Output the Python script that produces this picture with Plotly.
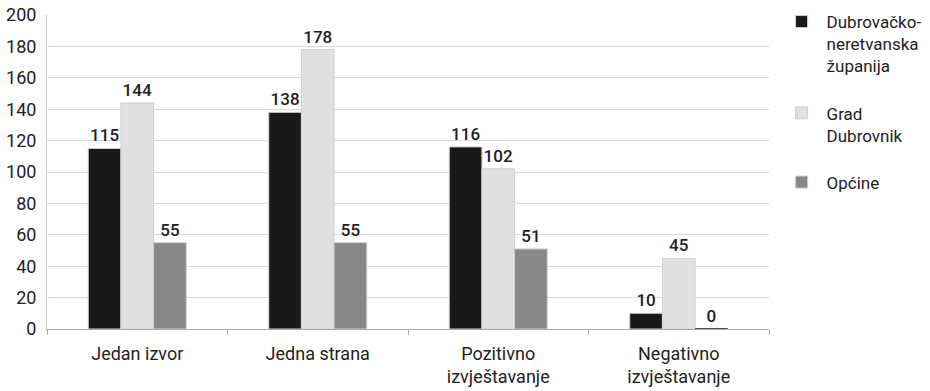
import plotly.graph_objects as go

categories = ["Jedan izvor", "Jedna strana", "Pozitivno<br>izvještavanje", "Negativno<br>izvještavanje"]
series_names = ["Dubrovačko-<br>neretvanska<br>županija", "Grad<br>Dubrovnik", "Općine"]
zupanija = [115, 138, 116, 10]
grad = [144, 178, 102, 45]
opcine = [55, 55, 51, 0]
colors = ["#191919", "#e0e0e0", "#888888"]
y_ticks = [0, 20, 40, 60, 80, 100, 120, 140, 160, 180, 200]

FONT = "Roboto"
fig = go.Figure()
for i, (name, vals, col) in enumerate(zip(series_names, [zupanija, grad, opcine], colors)):
    line_cols = ["#191919" if v == 0 else "#cfcfcf" for v in vals]
    fig.add_trace(go.Bar(
        x=categories, y=vals, name=name, legendgroup=f"g{i}",
        marker=dict(color=col, line=dict(color=line_cols, width=1)),
        text=vals, textposition="outside", cliponaxis=False,
        textfont=dict(family=FONT, size=17, color="#222", weight=500),
    ))

fig.update_layout(
    width=930, height=391,
    margin=dict(l=47, r=161, t=15, b=62, autoexpand=False),
    plot_bgcolor="white", paper_bgcolor="white",
    barmode="group", bargap=0.457, bargroupgap=0,
    font=dict(family=FONT, size=17, color="#222"),
    showlegend=True,
    legend=dict(x=1.0105, y=1.035, xanchor="left", yanchor="top",
                valign="top", tracegroupgap=22, traceorder="grouped",
                font=dict(family=FONT, size=17, color="#222"),
                itemwidth=40, maxheight=380),
    xaxis=dict(showline=True, linecolor="#aaaaaa", linewidth=1, automargin=False,
               tickson="boundaries", ticks="outside", ticklen=5, tickcolor="#aaaaaa",
               ticklabelstandoff=8,
               tickfont=dict(family=FONT, size=18, color="#222")),
    yaxis=dict(range=[0, 200], tickvals=y_ticks, showgrid=True, gridcolor="#d9d9d9",
               showline=True, linecolor="#cccccc", zeroline=False, automargin=False,
               tickfont=dict(family=FONT, size=18, color="#222"), ticklabelstandoff=6),
)
fig.write_html("out.html")
